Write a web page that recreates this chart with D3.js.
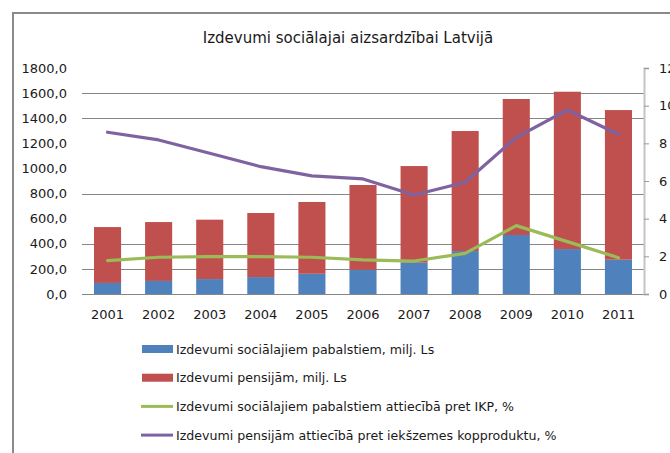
<!DOCTYPE html>
<html>
<head>
<meta charset="utf-8">
<script src="https://cdn.jsdelivr.net/npm/d3@7"></script>
<style>
  html, body { margin: 0; padding: 0; background: #fff; }
  svg { display: block; }
  text { font-family: "DejaVu Sans", Verdana, sans-serif; fill: #1a1a1a; }
</style>
</head>
<body>
<svg id="chart" width="670" height="453"></svg>
<script>
// ---- data ----
const years = ["2001","2002","2003","2004","2005","2006","2007","2008","2009","2010","2011"];
const socialBenefits = [88, 104, 119, 135, 161, 193, 250, 342, 470, 358, 273];      // milj. Ls
const pensions = [445, 469, 473, 510, 572, 675, 769, 956, 1083, 1253, 1192];         // milj. Ls
const socialPctGDP = [1.77, 1.95, 1.98, 1.98, 1.95, 1.81, 1.75, 2.16, 3.63, 2.78, 1.93];
const pensionPctGDP = [8.59, 8.18, 7.47, 6.76, 6.27, 6.11, 5.26, 5.93, 8.32, 9.77, 8.48];
const leftTicks = [0, 200, 400, 600, 800, 1000, 1200, 1400, 1600, 1800];
const rightTicks = [0, 2, 4, 6, 8, 10, 12];
const gridValues = [200, 400, 800, 1400, 1600];
const title = "Izdevumi sociālajai aizsardzībai Latvijā";
const legendLabels = [
  "Izdevumi sociālajiem pabalstiem, milj. Ls",
  "Izdevumi pensijām, milj. Ls",
  "Izdevumi sociālajiem pabalstiem attiecībā pret IKP, %",
  "Izdevumi pensijām attiecībā pret iekšzemes kopproduktu, %"
];

// ---- styles ----
const colors = { blue: "#4F81BD", red: "#C0504D", green: "#9BBB59", purple: "#7F63A1" };
const svg = d3.select("#chart");
const plot = { left: 82, right: 644, top: 68, bottom: 294 };

// frame
svg.append("rect").attr("x", 13).attr("y", 13).attr("width", 700).attr("height", 500)
  .attr("fill", "none").attr("stroke", "#8a8a8a").attr("stroke-width", 2);

// scales
const x = d3.scaleBand().domain(years).range([plot.left, plot.right]).paddingInner(0.47).paddingOuter(0.235);
const yL = d3.scaleLinear().domain([0, 1800]).range([plot.bottom, plot.top]);
const yR = d3.scaleLinear().domain([0, 12]).range([plot.bottom, plot.top]);

const loc = d3.formatLocale({ decimal: ",", thousands: " ", grouping: [3], currency: ["", ""] });
const fmtL = loc.format(".1f");

// gridlines
svg.append("g").selectAll("line").data(gridValues).join("line")
  .attr("x1", plot.left).attr("x2", plot.right)
  .attr("y1", d => Math.round(yL(d)) + 0.5).attr("y2", d => Math.round(yL(d)) + 0.5)
  .attr("stroke", "#868686").attr("stroke-width", 1);

// left axis labels
const leftAxis = d3.axisLeft(yL).tickValues(leftTicks).tickFormat(fmtL).tickSize(0).tickPadding(0);
const gL = svg.append("g").attr("transform", "translate(67,0)").call(leftAxis);
gL.select(".domain").remove();
gL.selectAll("text").attr("font-size", 13).attr("font-family", "DejaVu Sans").attr("fill", "#1a1a1a");

// stacked bars
const rows = years.map((y, i) => ({ year: y, social: socialBenefits[i], pension: pensions[i] }));
const stack = d3.stack().keys(["social", "pension"])(rows);
const barColors = { social: colors.blue, pension: colors.red };
svg.append("g").selectAll("g").data(stack).join("g")
  .attr("fill", d => barColors[d.key])
  .selectAll("rect").data(d => d).join("rect")
  .attr("x", d => x(d.data.year))
  .attr("width", x.bandwidth())
  .attr("y", d => yL(d[1]))
  .attr("height", d => yL(d[0]) - yL(d[1]));

// baseline
svg.append("line").attr("x1", plot.left).attr("x2", plot.right)
  .attr("y1", yL(0) + 0.5).attr("y2", yL(0) + 0.5).attr("stroke", "#868686").attr("stroke-width", 1);

// x axis labels
const xAxis = d3.axisBottom(x).tickSize(0).tickPadding(0);
const gX = svg.append("g").attr("transform", `translate(0,${plot.bottom + 16})`).call(xAxis);
gX.select(".domain").remove();
gX.selectAll("text").attr("font-size", 13).attr("font-family", "DejaVu Sans").attr("fill", "#1a1a1a");

// right axis
const rightAxis = d3.axisRight(yR).tickValues(rightTicks).tickFormat(d3.format("d")).tickSize(5).tickPadding(10);
const gR = svg.append("g").attr("transform", `translate(${plot.right},0)`).call(rightAxis);
gR.select(".domain").attr("stroke", "#c4c4c4").attr("stroke-width", 2);
gR.selectAll(".tick line").attr("stroke", "#9a9a9a");
gR.selectAll("text").attr("font-size", 13).attr("font-family", "DejaVu Sans").attr("fill", "#1a1a1a");

// lines
const cx = d => x(d) + x.bandwidth() / 2;
const lineGen = d3.line().x(d => cx(d.year)).y(d => yR(d.v));
svg.append("path")
  .datum(years.map((y, i) => ({ year: y, v: pensionPctGDP[i] })))
  .attr("d", lineGen).attr("fill", "none").attr("stroke", colors.purple)
  .attr("stroke-width", 3.2).attr("stroke-linejoin", "round").attr("stroke-linecap", "round");
svg.append("path")
  .datum(years.map((y, i) => ({ year: y, v: socialPctGDP[i] })))
  .attr("d", lineGen).attr("fill", "none").attr("stroke", colors.green)
  .attr("stroke-width", 3.2).attr("stroke-linejoin", "round").attr("stroke-linecap", "round");

// title
svg.append("text").attr("x", 348).attr("y", 43).attr("text-anchor", "middle")
  .attr("font-size", 15).text(title);

// legend
const legendTypes = ["rect", "rect", "line", "line"];
const legendColors = [colors.blue, colors.red, colors.green, colors.purple];
const lg = svg.append("g");
legendLabels.forEach((label, i) => {
  const cy = 349 + i * 28.7;
  if (legendTypes[i] === "rect") {
    lg.append("rect").attr("x", 142).attr("y", cy - 4).attr("width", 31).attr("height", 8).attr("fill", legendColors[i]);
  } else {
    lg.append("line").attr("x1", 141).attr("x2", 173).attr("y1", cy).attr("y2", cy)
      .attr("stroke", legendColors[i]).attr("stroke-width", 3);
  }
  lg.append("text").attr("x", 176).attr("y", cy).attr("dy", "0.36em")
    .attr("font-size", 12.6).text(label);
});
</script>
</body>
</html>
